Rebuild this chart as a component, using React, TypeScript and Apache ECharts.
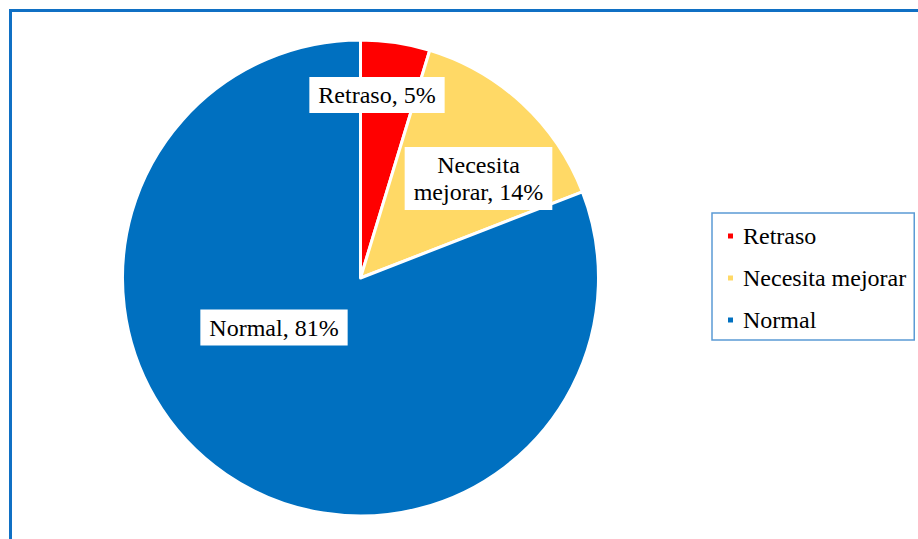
import React, { useEffect, useRef } from "react";
import * as echarts from "echarts";

const categories = ["Retraso", "Necesita mejorar", "Normal"];
const values = [4.7, 14.4, 80.9];
const colors = ["#FF0000", "#FFD966", "#0070C0"];
const labelPositions = [
  [377, 95],
  [478.5, 178.5],
  [274, 327.5],
];

export default function App() {
  const ref = useRef<HTMLDivElement>(null);
  useEffect(() => {
    if (!ref.current) return;
    const chart = echarts.init(ref.current, null, { renderer: "svg" });
    const font = '"Liberation Serif", "Times New Roman", serif';
    chart.setOption({
      animation: false,
      backgroundColor: "#ffffff",
      textStyle: { fontFamily: font },
      graphic: [
        {
          type: "rect",
          shape: { x: 10.5, y: 10.5, width: 1200, height: 1200 },
          style: { fill: "none", stroke: "#1070C4", lineWidth: 3 },
          silent: true,
          z: 100,
        },
      ],
      legend: {
        orient: "vertical",
        left: 712,
        top: 213,
        data: categories,
        selectedMode: false,
        icon: "path://M0,0H7V7H0Z M11,3.49H11.01V3.51H11Z",
        itemWidth: 11,
        itemHeight: 7,
        itemGap: 18,
        padding: [11, 8, 8, 14],
        borderColor: "#5B9BD5",
        borderWidth: 1.5,
        textStyle: {
          fontFamily: font,
          fontSize: 24,
          color: "#000000",
        },
      },
      series: [
        {
          type: "pie",
          center: [360.5, 278],
          radius: [0, 238],
          startAngle: 90,
          clockwise: true,
          avoidLabelOverlap: false,
          emphasis: { disabled: true },
          itemStyle: { borderColor: "#ffffff", borderWidth: 3 },
          labelLine: { show: false },
          label: {
            show: true,
            position: "inside",
            fontFamily: font,
            fontSize: 24,
            lineHeight: 27,
            color: "#000000",
            backgroundColor: "#ffffff",
            padding: [5, 9, 4, 9],
            align: "center",
            formatter: (p: any) =>
              `${String(p.name).replace(" ", "\n")}, ${Math.round(p.percent)}%`,
          },
          labelLayout: (p: any) => ({
            x: labelPositions[p.dataIndex][0],
            y: labelPositions[p.dataIndex][1],
            align: "center",
            verticalAlign: "middle",
          }),
          data: categories.map((name, i) => ({
            name,
            value: values[i],
            itemStyle: { color: colors[i] },
          })),
        },
      ],
    });
    return () => chart.dispose();
  }, []);
  return (
    <div
      ref={ref}
      style={{ position: "absolute", left: 0, top: 0, width: 918, height: 539 }}
    />
  );
}
